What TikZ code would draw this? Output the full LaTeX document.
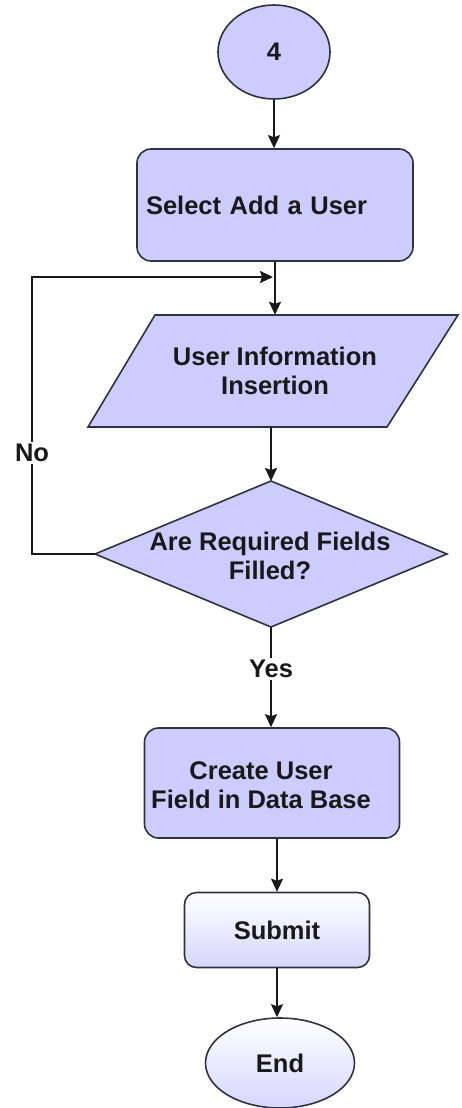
\documentclass[tikz,border=0pt]{standalone}
\usepackage{fontspec}
\setmainfont{Liberation Sans}
\usetikzlibrary{arrows.meta,shapes.geometric}
\definecolor{lav}{RGB}{204,204,255}
\definecolor{lavlight}{RGB}{214,214,255}
\definecolor{edge}{RGB}{50,50,60}
\tikzset{
  every node/.style={font=\bfseries\fontsize{25.5}{29.5}\selectfont, text=black!90},
  shapebox/.style={draw=edge, line width=1.6pt, fill=lav},
  roundbox/.style={shapebox, rectangle, rounded corners=14pt},
  gradbox/.style={draw=edge, line width=1.6pt, top color=white, bottom color=lavlight},
  conn/.style={draw=black!90, line width=1.8pt, -{Stealth[length=13pt,width=12pt,inset=2pt]}},
  plainline/.style={draw=black!90, line width=1.8pt},
  lbl/.style={fill=white, inner sep=2pt}
}
\begin{document}
\begin{tikzpicture}[x=1pt,y=-1pt]
\useasboundingbox (0,0) rectangle (461,1108);

% start circle
\node[shapebox, ellipse, minimum width=112pt, minimum height=94pt, inner sep=0pt] (c4) at (274,52) {4};

% select box
\node[roundbox, minimum height=112pt, text width=258pt, inner xsep=9pt, align=left] (sel) at (275,205) {Select Add a User};

% parallelogram
\draw[shapebox] (155,315) -- (458,315) -- (387,427) -- (88,427) -- cycle;
\node[minimum width=300pt, minimum height=112pt, inner sep=0pt, align=center] (ui) at (275,371) {User Information\\Insertion};

% diamond
\coordinate (dtop) at (271,481);
\coordinate (dright) at (447,554);
\coordinate (dbot) at (271,627);
\coordinate (dleft) at (95,554);
\draw[shapebox] (dtop) -- (dright) -- (dbot) -- (dleft) -- cycle;
\node[align=center, inner sep=0pt] (dtext) at (270,556) {Are Required Fields\\Filled?};

% create box
\node[roundbox, minimum width=255pt, minimum height=110pt] (cr) at (272,783) {};
\node[align=center, inner sep=0pt] (crt) at (261,785) {Create User\\Field in Data Base};

% submit
\node[gradbox, rectangle, rounded corners=12pt, minimum width=185pt, minimum height=75pt] (sub) at (277,930) {Submit};

% end
\node[gradbox, ellipse, minimum width=149pt, minimum height=90pt, inner sep=0pt] (end) at (280,1063) {End};

% loop corner coordinates
\coordinate (lc1) at (32,554);
\coordinate (lc2) at (32,277);
\coordinate (join) at (273,277);

% connectors
\draw[conn] (c4.south) -- (c4.south |- sel.north);
\draw[conn] (sel.south) -- (ui.north);
\draw[conn] (dtop |- ui.south) -- (dtop);
\draw[conn] (dbot) -- node[lbl, pos=0.42] {Yes} (dbot |- cr.north);
\draw[conn] (cr.south -| sub.north) -- (sub.north);
\draw[conn] (sub.south) -- (sub.south |- end.north);
\draw[conn] (dleft) -- (lc1) -- node[lbl, pos=0.365] {No} (lc2) -- (join);
\end{tikzpicture}
\end{document}
